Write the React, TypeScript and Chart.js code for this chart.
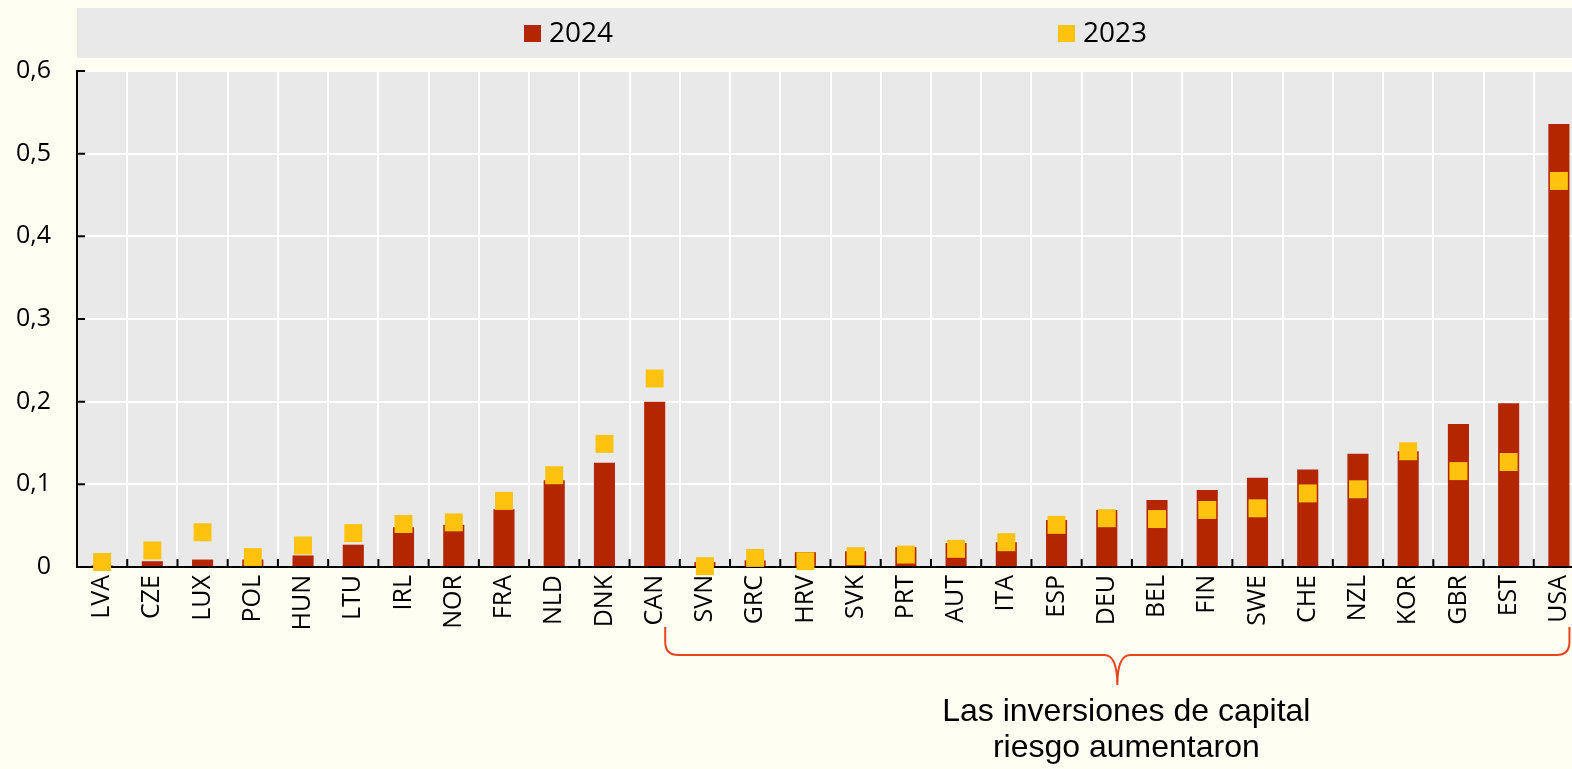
import React, { useEffect, useRef } from "react";
import { Chart, registerables } from "chart.js";

Chart.register(...registerables);

const categories = [
  "LVA", "CZE", "LUX", "POL", "HUN", "LTU", "IRL", "NOR", "FRA", "NLD", "DNK", "CAN",
  "SVN", "GRC", "HRV", "SVK", "PRT", "AUT", "ITA", "ESP", "DEU", "BEL", "FIN", "SWE",
  "CHE", "NZL", "KOR", "GBR", "EST", "USA",
];

const values2024 = [
  0.002, 0.007, 0.009, 0.009, 0.014, 0.027, 0.048, 0.051, 0.070, 0.105, 0.126, 0.200,
  0.006, 0.008, 0.018, 0.019, 0.024, 0.029, 0.030, 0.057, 0.069, 0.081, 0.093, 0.108,
  0.118, 0.137, 0.140, 0.173, 0.198, 0.536,
];

const values2023 = [
  0.006, 0.020, 0.042, 0.012, 0.026, 0.041, 0.052, 0.054, 0.080, 0.111, 0.149, 0.228,
  0.001, 0.011, 0.007, 0.013, 0.015, 0.022, 0.030, 0.051, 0.059, 0.058, 0.069, 0.071,
  0.089, 0.094, 0.140, 0.116, 0.127, 0.467,
];

const seriesLabels = ["2024", "2023"];
const yMin = 0;
const yMax = 0.6;
const yStep = 0.1;
const annotationLines = ["Las inversiones de capital", "riesgo aumentaron"];
const bracketFirst = "CAN";
const bracketLast = "USA";

const RED = "#B32600";
const YELLOW = "#FFC20E";
const PANEL = "#E9E9E9";
const BG = "#FEFEF3";
const BRACKET = "#E8441E";

const CANVAS_W = 1588;
const CANVAS_H = 769;

const fmt = (v: number) => (Math.abs(v) < 1e-9 ? "0" : v.toFixed(1).replace(".", ","));

const decoPlugin = {
  id: "deco",
  beforeDraw(chart: any) {
    const { ctx, chartArea } = chart;
    ctx.save();
    ctx.fillStyle = BG;
    ctx.fillRect(0, 0, chart.width, chart.height);
    ctx.fillStyle = PANEL;
    ctx.fillRect(77, 8, chart.width - 77, 50);
    ctx.fillRect(chartArea.left, chartArea.top, chartArea.right - chartArea.left, chartArea.bottom - chartArea.top);
    ctx.restore();
  },
  beforeDatasetsDraw(chart: any) {
    const { ctx, chartArea } = chart;
    const xs = chart.scales.x;
    const ys = chart.scales.y;
    ctx.save();
    ctx.strokeStyle = "#000";
    ctx.lineWidth = 2;
    ctx.beginPath();
    for (let i = 1; i < categories.length; i++) {
      const b = (xs.getPixelForValue(i - 1) + xs.getPixelForValue(i)) / 2;
      ctx.moveTo(b, chartArea.bottom);
      ctx.lineTo(b, chartArea.bottom - 8);
    }
    for (let v = yMin; v <= yMax + 1e-9; v += yStep) {
      const y = ys.getPixelForValue(v);
      ctx.moveTo(chartArea.left, y);
      ctx.lineTo(chartArea.left + 8, y);
    }
    ctx.stroke();
    ctx.restore();
  },
  afterDraw(chart: any) {
    const { ctx } = chart;
    ctx.save();
    // legend
    const items = [
      { label: seriesLabels[0], color: RED, x: 524 },
      { label: seriesLabels[1], color: YELLOW, x: 1058 },
    ];
    ctx.font = "28px 'Open Sans'";
    ctx.textBaseline = "middle";
    ctx.textAlign = "left";
    for (const it of items) {
      ctx.fillStyle = it.color;
      ctx.fillRect(it.x, 25, 17, 17);
      ctx.fillStyle = "#000";
      ctx.fillText(it.label, it.x + 25, 34);
    }

    // bracket
    const meta = chart.getDatasetMeta(0);
    const i0 = categories.indexOf(bracketFirst);
    const i1 = categories.indexOf(bracketLast);
    const b0 = meta.data[i0];
    const b1 = meta.data[i1];
    const x0 = b0.x + b0.width / 2;
    const x1 = b1.x + b1.width / 2;
    const xm = (x0 + x1) / 2;
    const yTop = 627;
    const yH = 655;
    const yTip = 685;
    const r = 13;
    ctx.strokeStyle = BRACKET;
    ctx.lineWidth = 2;
    ctx.beginPath();
    ctx.moveTo(x0, yTop);
    ctx.lineTo(x0, yH - r);
    ctx.quadraticCurveTo(x0, yH, x0 + r, yH);
    ctx.lineTo(xm - r, yH);
    ctx.quadraticCurveTo(xm, yH, xm, yTip);
    ctx.quadraticCurveTo(xm, yH, xm + r, yH);
    ctx.lineTo(x1 - r, yH);
    ctx.quadraticCurveTo(x1, yH, x1, yH - r);
    ctx.lineTo(x1, yTop);
    ctx.stroke();

    // annotation
    ctx.fillStyle = "#000";
    ctx.font = "32px 'Liberation Sans'";
    ctx.textAlign = "center";
    ctx.textBaseline = "alphabetic";
    ctx.fillText(annotationLines[0], xm + 9, 721);
    ctx.fillText(annotationLines[1], xm + 9, 757);
    ctx.restore();
  },
};

export default function App() {
  const ref = useRef<HTMLCanvasElement | null>(null);

  useEffect(() => {
    if (!ref.current) return;
    const chart = new Chart(ref.current, {
      type: "bar",
      data: {
        labels: categories,
        datasets: [
          {
            type: "bar",
            label: seriesLabels[0],
            data: values2024,
            backgroundColor: RED,
            borderWidth: 0,
            categoryPercentage: 1,
            barPercentage: 0.42,
            order: 2,
          } as any,
          {
            type: "line",
            label: seriesLabels[1],
            data: values2023,
            showLine: false,
            pointStyle: "rect",
            pointRadius: 12.7,
            pointBackgroundColor: YELLOW,
            pointBorderWidth: 0,
            pointBorderColor: YELLOW,
            backgroundColor: YELLOW,
            borderColor: YELLOW,
            clip: false,
            order: 1,
          } as any,
        ],
      },
      options: {
        responsive: false,
        maintainAspectRatio: false,
        animation: false,
        events: [],
        layout: { autoPadding: false, padding: { top: 71, right: 4, left: 0, bottom: 0 } },
        plugins: {
          legend: { display: false },
          tooltip: { enabled: false },
          title: { display: false },
        },
        scales: {
          x: {
            type: "category",
            offset: true,
            grid: { color: "#FFFFFF", lineWidth: 2, drawTicks: false, offset: true },
            border: { color: "#000", width: 2 },
            ticks: {
              color: "#000",
              font: { family: "'Open Sans'", size: 25 },
              minRotation: 90,
              maxRotation: 90,
              autoSkip: false,
              padding: 8,
            },
            afterFit: (s: any) => {
              s.height = CANVAS_H - 567;
              s.paddingLeft = 0;
              s.paddingRight = 0;
            },
          },
          y: {
            min: yMin,
            max: yMax,
            grid: { color: "#FFFFFF", lineWidth: 2, drawTicks: false },
            border: { color: "#000", width: 2 },
            ticks: {
              stepSize: yStep,
              color: "#000",
              font: { family: "'Open Sans'", size: 25 },
              padding: 26,
              callback: (v: any) => fmt(Number(v)),
            },
            afterFit: (s: any) => {
              s.width = 77;
              s.paddingTop = 0;
              s.paddingBottom = 0;
            },
          },
        },
      },
      plugins: [decoPlugin],
    });
    return () => chart.destroy();
  }, []);

  return (
    <div
      style={{
        position: "fixed",
        left: 0,
        top: 0,
        width: 1572,
        height: 769,
        overflow: "hidden",
        background: BG,
      }}
    >
      <div style={{ width: CANVAS_W, height: CANVAS_H }}>
        <canvas
          ref={ref}
          width={CANVAS_W}
          height={CANVAS_H}
          style={{ display: "block", width: CANVAS_W, height: CANVAS_H }}
        />
      </div>
    </div>
  );
}
